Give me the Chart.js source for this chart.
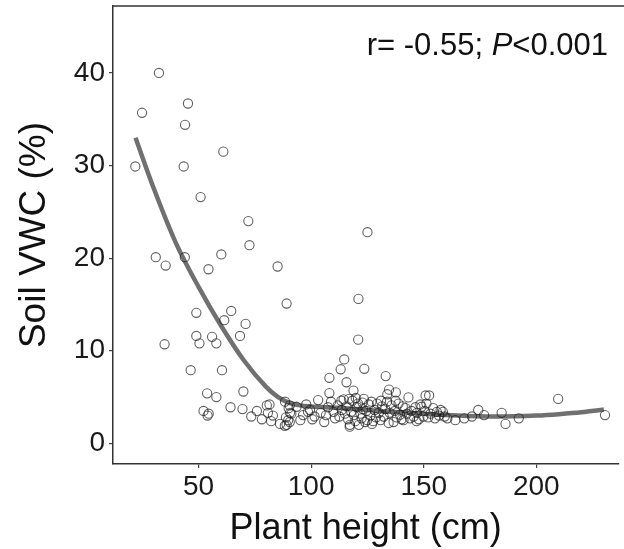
<!DOCTYPE html>
<html>
  <head>
    <meta charset="utf-8">
    <title>Soil VWC vs plant height</title>
    <script src="https://cdn.jsdelivr.net/npm/chart.js@4.4.1/dist/chart.umd.min.js"></script>
    <style>
      html, body { margin: 0; padding: 0; background: #fff; }
      #wrap { width: 624px; height: 549px; }
    </style>
  </head>
  <body>
    <div id="wrap"><canvas id="myChart" width="624" height="549"></canvas></div>

    <script>
      // observations (plant height in cm, soil VWC in %)
      const heightCm = [
        21.9, 24.9, 32.4, 45.3, 44.0, 43.4, 61.0, 50.9, 72.1, 72.6,
        31.0, 35.4, 43.9, 54.4, 60.1, 85.1, 89.1,
        49.0, 64.5, 61.4, 70.9, 49.0, 56.0, 68.4, 50.4, 57.9, 34.9,
        46.5, 60.4, 53.8, 57.9, 69.9, 52.2, 54.0, 54.5, 64.2, 69.5, 73.4, 75.9, 78.1,
        80.3, 81.5, 80.8, 83.0, 82.2, 86.2, 88.4, 89.1, 90.0, 88.8, 90.6, 90.5, 89.8, 91.2, 88.3, 90.5,
        93.5, 96.4, 97.8, 99.5, 101.5, 103.1, 104.2, 100.5, 95.2, 98.6,
        106.6, 107.5, 108.8, 109.9, 110.6, 111.8, 112.5, 113.6, 114.4, 105.8, 108.1, 115.0,
        115.7, 116.4, 117.2, 117.8, 118.3, 118.8, 119.0, 119.6, 120.3, 120.8, 121.2, 121.9,
        122.4, 123.0, 123.4, 124.0, 124.9, 124.5, 116.8, 119.8, 122.8, 117.1,
        125.6, 126.3, 126.8, 127.5, 128.2, 128.8, 129.3, 130.1, 130.8, 131.5, 132.2, 132.9,
        133.7, 134.4, 134.9, 127.0, 131.0,
        135.7, 136.6, 137.2, 138.0, 138.8, 139.5, 140.2, 141.0, 141.8, 142.5, 143.2, 143.9,
        144.6, 137.5, 140.7,
        145.5, 146.3, 147.0, 147.8, 148.5, 149.0, 149.8, 150.4, 150.8, 152.4, 151.2, 152.0,
        153.0, 154.2, 155.0, 155.8, 156.8, 157.5, 158.5, 159.3, 160.5, 146.8,
        164.0, 168.0, 171.4, 174.2, 176.8, 184.6, 186.3, 192.2, 209.7, 230.5,
        125.0, 121.0, 120.9, 114.7, 113.1, 123.6, 108.1, 115.7, 133.1, 134.6, 137.6, 133.8, 113.4
      ];
      const vwcPct = [
        29.9, 35.7, 40.0, 36.7, 34.4, 29.9, 31.5, 26.6, 24.0, 21.4,
        20.1, 19.2, 20.1, 18.8, 20.4, 19.1, 15.1,
        14.1, 14.3, 13.3, 12.9, 11.6, 11.5, 11.6, 10.8, 10.8, 10.7,
        7.9, 7.9, 5.4, 5.0, 5.6, 3.5, 3.0, 3.2, 3.9, 3.7, 2.9, 3.5, 2.6,
        4.1, 4.2, 3.3, 3.0, 2.4, 2.1, 4.5, 2.0, 3.8, 2.8, 3.3, 4.1, 2.5, 3.2, 1.9, 2.3,
        3.95, 3.05, 4.2, 3.6, 2.9, 4.67, 3.3, 2.6, 2.5, 3.4,
        3.05, 3.9, 4.5, 3.4, 2.7, 4.1, 2.9, 3.6, 4.75, 2.3, 5.43, 3.2,
        4.0, 2.6, 2.0, 3.4, 4.6, 5.7, 3.05, 2.4, 3.9, 4.3, 2.0, 3.2,
        2.7, 3.7, 4.8, 2.3, 2.5, 3.5, 4.8, 4.9, 4.4, 1.8,
        4.2, 3.0, 4.5, 2.4, 3.6, 2.8, 4.3, 3.3, 2.5, 4.0, 2.9, 3.7,
        4.5, 2.2, 3.3, 2.1, 4.6,
        4.1, 2.3, 3.5, 2.8, 4.3, 3.1, 2.6, 2.5, 3.8, 3.2, 4.96, 2.7,
        3.5, 4.6, 4.0,
        2.9, 3.9, 3.3, 2.6, 4.2, 3.95, 2.9, 3.5, 5.17, 5.17, 4.3, 2.8,
        3.2, 3.8, 2.7, 3.4, 3.0, 3.6, 3.4, 2.9, 2.7, 2.4,
        2.5, 2.7, 2.9, 3.6, 3.05, 3.3, 2.1, 2.7, 4.8, 3.05,
        22.8, 15.6, 11.2, 9.06, 8.0, 8.05, 7.08, 6.6, 7.26, 5.8, 5.5, 5.3, 4.6
      ];

      // fitted trend line
      const fitHeight = [22, 30, 40, 50, 60, 70, 80, 85, 90, 95, 100,
                         110, 120, 130, 140, 150, 160, 170, 180, 190, 200, 210, 220, 230];
      const fitVwc = [33.0, 27.6, 21.6, 16.9, 12.7, 9.0, 6.1, 5.05, 4.4, 4.1, 3.98,
                      3.85, 3.7, 3.5, 3.35, 3.2, 3.05, 2.95, 2.9, 2.92, 3.0, 3.15, 3.35, 3.65];

      const xTicks = [50, 100, 150, 200];
      const yTicks = [0, 10, 20, 30, 40];
      const statLabel = ['r= -0.55; ', 'P', '<0.001'];

      const FONT = '"Liberation Sans", Arial, sans-serif';

      const points = heightCm.map((h, i) => ({x: h, y: vwcPct[i]}));
      const fitLine = fitHeight.map((h, i) => ({x: h, y: fitVwc[i]}));

      // top border of the panel + r / P annotation
      const extras = {
        id: 'extras',
        afterDraw(chart) {
          const ctx = chart.ctx;
          const a = chart.chartArea;
          ctx.save();
          ctx.strokeStyle = '#333';
          ctx.lineWidth = 1.5;
          ctx.beginPath();
          ctx.moveTo(a.left, a.top);
          ctx.lineTo(chart.width, a.top);
          ctx.stroke();

          const styles = ['normal', 'italic', 'normal'];
          ctx.fillStyle = '#111';
          ctx.textBaseline = 'alphabetic';
          let total = 0;
          const widths = statLabel.map((s, i) => {
            ctx.font = styles[i] + ' 31px ' + FONT;
            const w = ctx.measureText(s).width;
            total += w;
            return w;
          });
          let x = 608 - total;
          statLabel.forEach((s, i) => {
            ctx.font = styles[i] + ' 31px ' + FONT;
            ctx.fillText(s, x, 55);
            x += widths[i];
          });
          ctx.restore();
        }
      };

      var ctx = document.getElementById('myChart').getContext('2d');
      var myChart = new Chart(ctx, {
        type: 'scatter',
        data: {
          datasets: [{
            data: points,
            pointStyle: 'circle',
            pointRadius: 4.6,
            borderWidth: 1.1,
            borderColor: 'rgba(30,30,30,0.7)',
            backgroundColor: 'rgba(0,0,0,0)'
          }, {
            data: fitLine,
            showLine: true,
            pointRadius: 0,
            borderWidth: 4.5,
            borderColor: '#707070',
            cubicInterpolationMode: 'monotone'
          }]
        },
        options: {
          responsive: false,
          animation: false,
          devicePixelRatio: 1,
          layout: { padding: { top: 6, right: 0, left: 0, bottom: 0 } },
          plugins: { legend: { display: false }, tooltip: { enabled: false } },
          scales: {
            x: {
              type: 'linear',
              min: 12,
              max: 236.4,
              afterBuildTicks: s => { s.ticks = xTicks.map(v => ({value: v})); },
              afterFit: s => { s.height = 85; s.paddingLeft = 0; s.paddingRight = 0; },
              grid: { drawOnChartArea: false, drawTicks: true, tickLength: 4, color: '#444', lineWidth: 1.2 },
              border: { color: '#333', width: 1.5 },
              ticks: { color: '#1a1a1a', padding: 2, font: { family: FONT, size: 28 } },
              title: {
                display: true,
                text: 'Plant height (cm)',
                color: '#111',
                padding: { top: 0, bottom: 0 },
                font: { family: FONT, size: 36, lineHeight: 1.1 }
              }
            },
            y: {
              type: 'linear',
              min: -2.23,
              max: 47.23,
              afterBuildTicks: s => { s.ticks = yTicks.map(v => ({value: v})); },
              afterFit: s => { s.width = 113; s.paddingTop = 0; s.paddingBottom = 0; },
              grid: { drawOnChartArea: false, drawTicks: true, tickLength: 4, color: '#444', lineWidth: 1.2 },
              border: { color: '#333', width: 1.5 },
              ticks: { color: '#1a1a1a', padding: 4, font: { family: FONT, size: 28 } },
              title: {
                display: true,
                text: 'Soil VWC (%)',
                color: '#111',
                padding: { top: 13, bottom: 0 },
                font: { family: FONT, size: 37, lineHeight: 1.2 }
              }
            }
          }
        },
        plugins: [extras]
      });
    </script>
  </body>
</html>
